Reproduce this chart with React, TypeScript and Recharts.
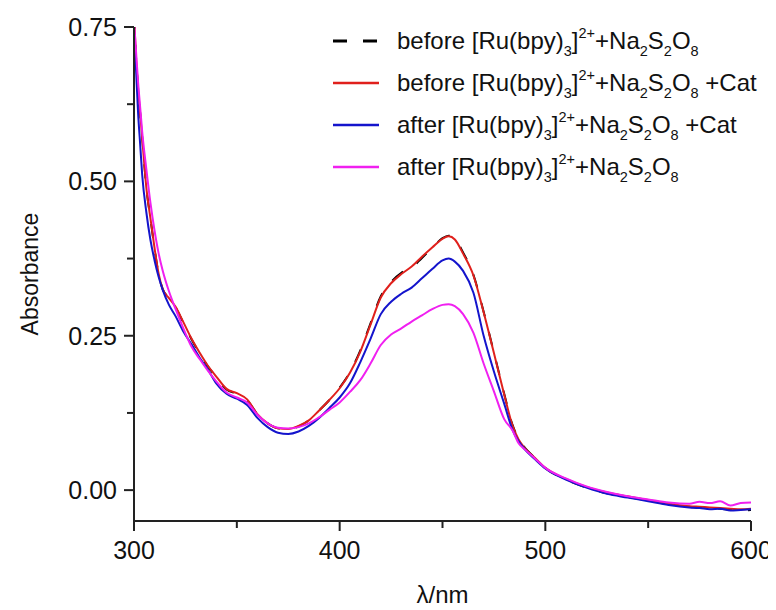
import React from "react";
import { LineChart, Line, XAxis, YAxis, Legend, Label } from "recharts";

const FONT = "'Liberation Sans', Arial, sans-serif";

const WAVELENGTH = [
  300, 301, 302, 303, 304, 306, 308, 310, 312, 314, 317, 320, 324, 328, 332, 336,
  340, 345, 350, 355, 360, 365, 370, 375, 380, 385, 390, 395, 400, 405, 410, 415,
  420, 425, 430, 435, 440, 445, 450, 453, 456, 460, 465, 470, 475, 480, 484, 487,
  490, 495, 500, 510, 520, 530, 540, 550, 560, 570, 575, 580, 585, 590, 595, 600,
];

const BEFORE = [
  0.77, 0.7, 0.65, 0.61, 0.57, 0.49, 0.44, 0.391, 0.349, 0.325, 0.311, 0.297, 0.271, 0.244, 0.221, 0.2,
  0.183, 0.163, 0.156, 0.146, 0.123, 0.108, 0.1, 0.099, 0.103, 0.113, 0.129, 0.146, 0.166, 0.191, 0.226, 0.27,
  0.314, 0.337, 0.352, 0.36, 0.376, 0.392, 0.408, 0.412, 0.407, 0.385, 0.349, 0.289, 0.223, 0.156, 0.106, 0.083,
  0.069, 0.052, 0.036, 0.017, 0.004, -0.005, -0.011, -0.017, -0.023, -0.027, -0.029, -0.029, -0.03, -0.032, -0.033, -0.032,
];

const BEFORE_CAT = [
  0.77, 0.7, 0.65, 0.61, 0.57, 0.49, 0.44, 0.392, 0.35, 0.325, 0.311, 0.298, 0.272, 0.245, 0.222, 0.201,
  0.184, 0.164, 0.157, 0.147, 0.123, 0.108, 0.1, 0.099, 0.104, 0.113, 0.129, 0.146, 0.165, 0.19, 0.224, 0.268,
  0.312, 0.335, 0.35, 0.362, 0.378, 0.393, 0.407, 0.411, 0.406, 0.383, 0.348, 0.288, 0.222, 0.155, 0.105, 0.082,
  0.068, 0.052, 0.036, 0.018, 0.005, -0.004, -0.01, -0.016, -0.022, -0.026, -0.027, -0.028, -0.029, -0.03, -0.031, -0.03,
];

const AFTER_CAT = [
  0.74, 0.68, 0.61, 0.56, 0.51, 0.45, 0.405, 0.372, 0.345, 0.324, 0.3, 0.283, 0.257, 0.236, 0.214, 0.195,
  0.173, 0.156, 0.148, 0.138, 0.117, 0.102, 0.093, 0.091, 0.095, 0.104, 0.117, 0.133, 0.15, 0.173, 0.207, 0.245,
  0.285, 0.305, 0.318, 0.328, 0.343, 0.358, 0.372, 0.375, 0.37, 0.355, 0.32, 0.25, 0.192, 0.14, 0.098, 0.079,
  0.066, 0.05, 0.035, 0.017, 0.004, -0.006, -0.012, -0.018, -0.024, -0.028, -0.029, -0.031, -0.03, -0.033, -0.032, -0.031,
];

const AFTER = [
  0.76, 0.71, 0.66, 0.62, 0.58, 0.52, 0.465, 0.42, 0.383, 0.355, 0.322, 0.295, 0.262, 0.232, 0.212, 0.193,
  0.176, 0.158, 0.15, 0.142, 0.122, 0.108, 0.101, 0.1, 0.102, 0.108, 0.118, 0.13, 0.142, 0.159, 0.178, 0.205,
  0.235, 0.252, 0.262, 0.273, 0.283, 0.293, 0.3, 0.301, 0.298, 0.285, 0.255, 0.205, 0.16, 0.115, 0.097, 0.076,
  0.066, 0.051, 0.036, 0.019, 0.006, -0.003, -0.01, -0.015, -0.02, -0.022, -0.019, -0.021, -0.018, -0.025, -0.021, -0.02,
];

const X_TICKS = [300, 350, 400, 450, 500, 550, 600];
const Y_TICKS = [0, 0.125, 0.25, 0.375, 0.5, 0.625, 0.75];

const SERIES = [
  { key: "before", prefix: "before", suffix: "", color: "#000000", dash: "14 16" },
  { key: "beforeCat", prefix: "before", suffix: " +Cat", color: "#e0201c", dash: undefined },
  { key: "afterCat", prefix: "after", suffix: " +Cat", color: "#1414cc", dash: undefined },
  { key: "after", prefix: "after", suffix: "", color: "#f020f0", dash: undefined },
];

const data = WAVELENGTH.map((w, i) => ({
  wl: w,
  before: BEFORE[i],
  beforeCat: BEFORE_CAT[i],
  afterCat: AFTER_CAT[i],
  after: AFTER[i],
}));

const AXIS_COLOR = "#222";

const XTick = (props: any) => {
  const { x, y, payload } = props;
  const v = payload.value;
  const major = v % 100 === 0;
  return (
    <g>
      <line x1={x} x2={x} y1={y} y2={y + (major ? 10 : 7)} stroke={AXIS_COLOR} strokeWidth={2} />
      {major && (
        <text x={x} y={y + 38} textAnchor="middle" fontSize={25} fontFamily={FONT} fill="#111">
          {v}
        </text>
      )}
    </g>
  );
};

const YTick = (props: any) => {
  const { x, y, payload } = props;
  const v = payload.value;
  const major = Math.abs(v * 4 - Math.round(v * 4)) < 1e-6;
  return (
    <g>
      <line x1={x - (major ? 10 : 7)} x2={x} y1={y} y2={y} stroke={AXIS_COLOR} strokeWidth={2} />
      {major && (
        <text x={x - 17} y={y + 9} textAnchor="end" fontSize={25} fontFamily={FONT} fill="#111">
          {v.toFixed(2)}
        </text>
      )}
    </g>
  );
};

const subStyle: React.CSSProperties = {
  fontSize: 14.5,
  position: "relative",
  top: 7,
  verticalAlign: "baseline",
  lineHeight: 0,
};
const supStyle: React.CSSProperties = {
  fontSize: 14.5,
  position: "relative",
  top: -11,
  verticalAlign: "baseline",
  lineHeight: 0,
};

const Formula = () => (
  <>
    [Ru(bpy)<span style={subStyle}>3</span>]<span style={supStyle}>2+</span>+Na
    <span style={subStyle}>2</span>S<span style={subStyle}>2</span>O<span style={subStyle}>8</span>
  </>
);

const LegendContent = () => (
  <div style={{ fontFamily: FONT, fontSize: 24, color: "#111" }}>
    {SERIES.map((s) => (
      <div key={s.key} style={{ display: "flex", alignItems: "center", height: 42, whiteSpace: "nowrap" }}>
        <svg width={46} height={6} style={{ display: "block" }}>
          <line x1={0} x2={46} y1={3} y2={3} stroke={s.color} strokeWidth={s.dash ? 3 : 2.5} strokeDasharray={s.dash} />
        </svg>
        <span style={{ marginLeft: 18, lineHeight: "24px" }}>
          {s.prefix} <Formula />
          {s.suffix}
        </span>
      </div>
    ))}
  </div>
);

export default function App() {
  return (
    <LineChart width={768} height={600} data={data} margin={{ top: 19, right: 25, bottom: 0, left: 0 }}>
      <XAxis
        dataKey="wl"
        type="number"
        domain={[300, 600]}
        ticks={X_TICKS}
        interval={0}
        tickSize={0}
        tickMargin={0}
        tick={<XTick />}
        height={87}
        axisLine={{ stroke: AXIS_COLOR, strokeWidth: 2 }}
        allowDataOverflow
      >
        <Label
          content={(p: any) => {
            const vb = p.viewBox || {};
            const cx = vb.x + vb.width / 2;
            return (
              <text x={cx} y={vb.y + 82} textAnchor="middle" fontSize={24} fontFamily={FONT} fill="#111">
                λ/nm
              </text>
            );
          }}
        />
      </XAxis>
      <YAxis
        type="number"
        domain={[-0.05, 0.75]}
        ticks={Y_TICKS}
        interval={0}
        tickSize={0}
        tickMargin={0}
        tick={<YTick />}
        width={126}
        axisLine={{ stroke: AXIS_COLOR, strokeWidth: 2 }}
        allowDataOverflow
      >
        <Label
          content={(p: any) => {
            const vb = p.viewBox || {};
            const lx = vb.x + 22;
            const ly = vb.y + vb.height / 2;
            return (
              <text
                x={lx}
                y={ly}
                transform={`rotate(-90 ${lx} ${ly})`}
                textAnchor="middle"
                dominantBaseline="central"
                fontSize={23}
                fontFamily={FONT}
                fill="#111"
              >
                Absorbance
              </text>
            );
          }}
        />
      </YAxis>
      <Legend
        layout="vertical"
        align="center"
        verticalAlign="middle"
        content={<LegendContent />}
        wrapperStyle={{ position: "absolute", left: 325, top: 12, width: "auto" }}
      />
      {SERIES.map((s) => (
        <Line
          key={s.key}
          dataKey={s.key}
          type="monotone"
          stroke={s.color}
          strokeWidth={2}
          strokeDasharray={s.dash}
          dot={false}
          activeDot={false}
          isAnimationActive={false}
        />
      ))}
    </LineChart>
  );
}
